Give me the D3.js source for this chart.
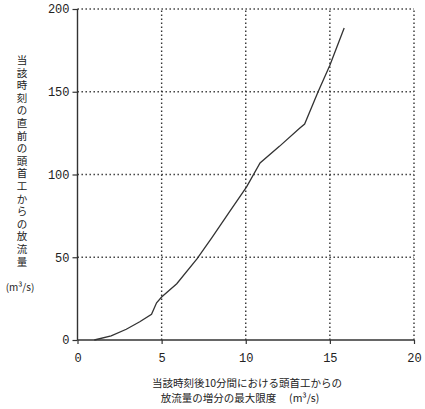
<!DOCTYPE html>
<html><head><meta charset="utf-8">
<script src="https://cdn.jsdelivr.net/npm/d3@7"></script>
<style>
html,body{margin:0;padding:0;background:#fff;}
svg{display:block;}
</style></head>
<body>
<svg id="c" width="425" height="409"></svg>
<script>
const xTicks = [0, 5, 10, 15, 20];
const yTicks = [0, 50, 100, 150, 200];
const curveX = [1.0, 2.0, 2.9, 3.7, 4.4, 4.7, 5.0, 5.9, 7.1, 8.0, 9.0, 10.05, 10.85, 12.0, 13.2, 13.5, 14.3, 15.0, 15.85];
const curveY = [0, 2.5, 6.5, 11, 15.5, 22.5, 26, 34, 49, 62, 77, 92.5, 107, 117, 128, 130.5, 150, 166, 188.5];
const yTitleChars = ["当","該","時","刻","の","直","前","の","頭","首","工","か","ら","の","放","流","量"];
const yUnit = "(m³/s)";
const xTitle1 = "当該時刻後10分間における頭首工からの";
const xTitle2 = "放流量の増分の最大限度　 (m³/s)";

const svg = d3.select("#c");
const x = d3.scaleLinear().domain([0, 20]).range([77.5, 414]);
const y = d3.scaleLinear().domain([0, 200]).range([340, 9]);
const ink = "#333";
const jp = "'Noto Sans CJK JP', sans-serif";
const num = "'Liberation Mono', monospace";

// grid
const g = svg.append("g");
g.selectAll("line.v").data(xTicks.filter(d => d > 0)).enter().append("line")
  .attr("x1", d => x(d)).attr("x2", d => x(d)).attr("y1", y(0)).attr("y2", y(200))
  .attr("stroke", ink).attr("stroke-width", 1.4).attr("stroke-dasharray", "1.4,2.6");
g.selectAll("line.h").data(yTicks.filter(d => d > 0)).enter().append("line")
  .attr("x1", x(0)).attr("x2", x(20)).attr("y1", d => y(d)).attr("y2", d => y(d))
  .attr("stroke", ink).attr("stroke-width", 1.4).attr("stroke-dasharray", "1.4,2.6");

// axes
const yAxis = d3.axisLeft(y).tickValues(yTicks).tickSize(5).tickPadding(3).tickFormat(d3.format("d"));
const xAxis = d3.axisBottom(x).tickValues(xTicks).tickSize(4).tickPadding(9).tickFormat(d3.format("d"));
const ya = svg.append("g").attr("transform", `translate(${x(0)},0)`).call(yAxis);
const xa = svg.append("g").attr("transform", `translate(0,${y(0)})`).call(xAxis);
[ya, xa].forEach(a => {
  a.select(".domain").attr("stroke", ink).attr("stroke-width", 1.4);
  a.selectAll(".tick line").attr("stroke", ink).attr("stroke-width", 1.2);
  a.selectAll("text").attr("font-family", num).attr("font-size", 12).attr("fill", "#222");
});
xa.select(".domain").attr("d", `M${x(0)},0H${x(20)}`);
ya.select(".domain").attr("d", `M0,${y(0)}V${y(200)}`);

// curve
const pts = curveX.map((v, i) => [v, curveY[i]]);
svg.append("path").datum(pts)
  .attr("d", d3.line().x(d => x(d[0])).y(d => y(d[1])))
  .attr("fill", "none").attr("stroke", ink).attr("stroke-width", 1.3);

// y title: one character per line
svg.append("g").selectAll("text").data(yTitleChars).enter().append("text")
  .attr("x", 22).attr("y", (d, i) => 64 + i * 12.6)
  .attr("text-anchor", "middle").attr("font-family", jp).attr("font-size", 10.5).attr("fill", "#222")
  .text(d => d);
svg.append("text").attr("x", 20).attr("y", 291).attr("text-anchor", "middle")
  .attr("font-family", jp).attr("font-size", 10).attr("fill", "#222").text(yUnit);

// x title
svg.append("text").attr("x", 247).attr("y", 387).attr("text-anchor", "middle")
  .attr("font-family", jp).attr("font-size", 10.5).attr("fill", "#222").text(xTitle1);
svg.append("text").attr("x", 240).attr("y", 402).attr("text-anchor", "middle")
  .attr("font-family", jp).attr("font-size", 10.5).attr("fill", "#222").attr("xml:space", "preserve").text(xTitle2);
</script>
</body></html>
